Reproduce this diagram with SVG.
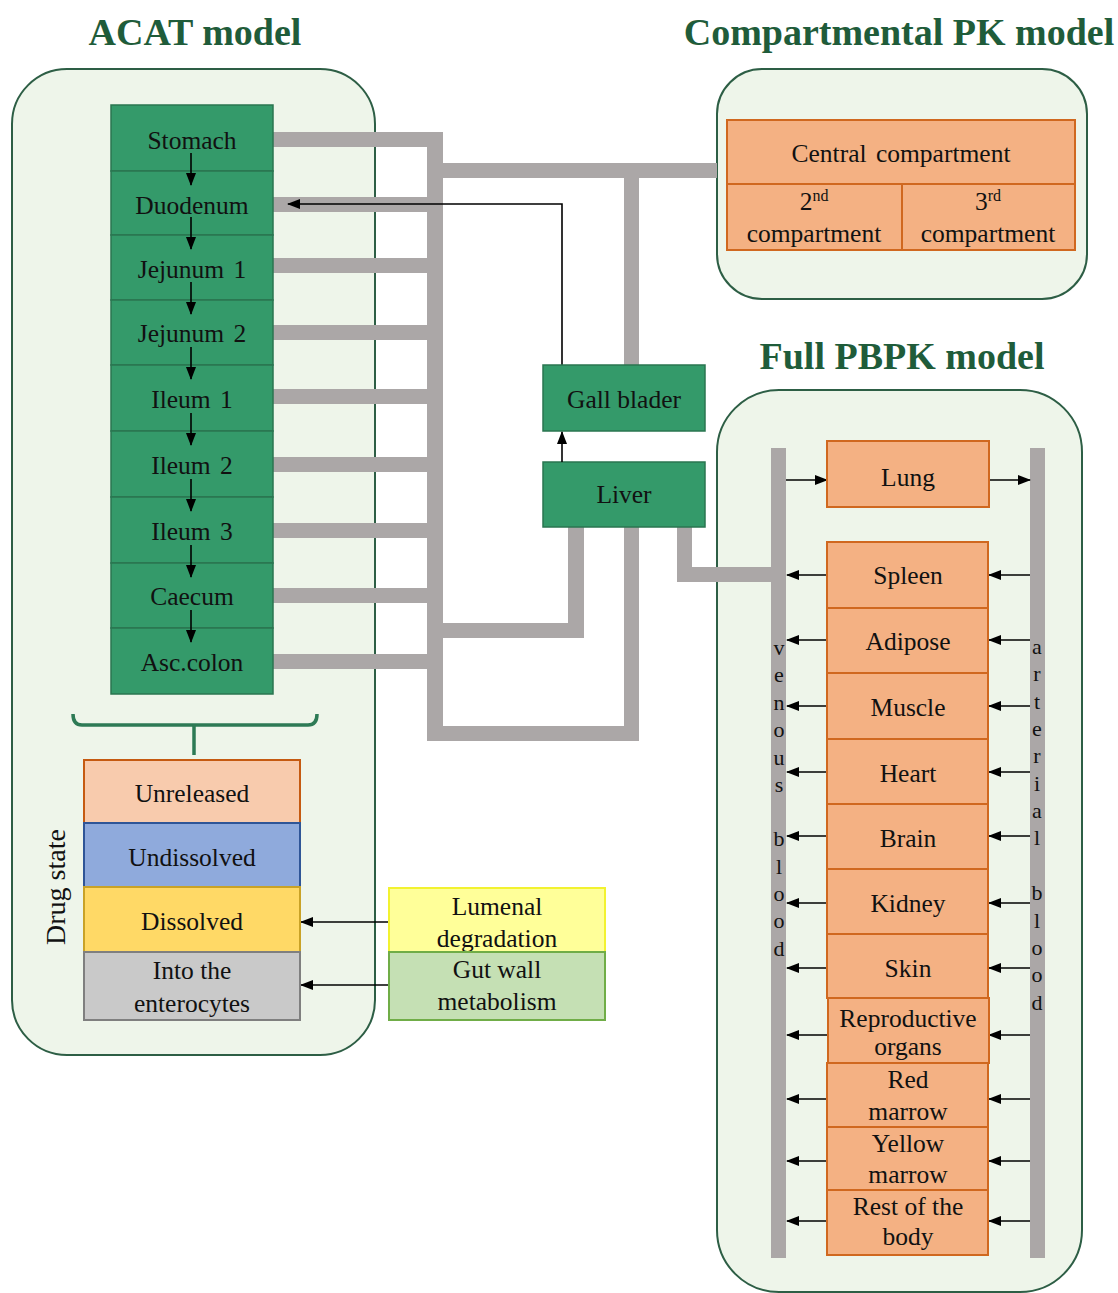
<svg xmlns="http://www.w3.org/2000/svg" width="1118" height="1293" viewBox="0 0 1118 1293">
<style>
text{font-family:"Liberation Serif","Times New Roman",serif;fill:#111;}
.t{font-size:25.5px;text-anchor:middle;}
.title{font-size:38px;font-weight:bold;fill:#1f5c3a;text-anchor:middle;}
.panel{fill:#eef5ea;stroke:#2d5e45;stroke-width:2;}
.gi{fill:#349a6a;stroke:#2a7550;stroke-width:1.5;}
.org{fill:#f4b183;stroke:#d0681f;stroke-width:2;}
.bar{fill:#aba7a7;}
.arr{stroke:#000;stroke-width:1.6;fill:none;marker-end:url(#ah);}
.lt{font-size:22px;text-anchor:middle;}
</style>
<defs>
<marker id="ah" markerUnits="userSpaceOnUse" markerWidth="13" markerHeight="10" refX="12" refY="5" orient="auto">
<path d="M0,0 L13,5 L0,10 Z" fill="#000"/>
</marker>
</defs>

<!-- titles -->
<text class="title" x="195" y="45">ACAT model</text>
<text class="title" x="899" y="45">Compartmental PK model</text>
<text class="title" x="902" y="369">Full PBPK model</text>

<!-- panels -->
<rect id="acat-panel" class="panel" x="12" y="69" width="363" height="986" rx="55"/>
<rect id="pk-panel" class="panel" x="717" y="69" width="370" height="230" rx="45"/>
<rect id="pbpk-panel" class="panel" x="717" y="390" width="365" height="902" rx="62"/>

<!-- gray connectors -->
<g id="connectors">
<g class="bar">
<rect x="427" y="132" width="16" height="609"/>
<rect x="273" y="132" width="170" height="15"/>
<rect x="273" y="197" width="154" height="15"/>
<rect x="273" y="258" width="154" height="15"/>
<rect x="273" y="325" width="154" height="15"/>
<rect x="273" y="389" width="154" height="15"/>
<rect x="273" y="457" width="154" height="15"/>
<rect x="273" y="523" width="154" height="15"/>
<rect x="273" y="588" width="154" height="15"/>
<rect x="273" y="654" width="154" height="15"/>
<rect x="443" y="163" width="274" height="15"/>
<rect x="624" y="178" width="15" height="187"/>
<rect x="568" y="527" width="16" height="111"/>
<rect x="443" y="623" width="141" height="15"/>
<rect x="624" y="527" width="15" height="214"/>
<rect x="427" y="726" width="212" height="15"/>
<rect x="677" y="527" width="15" height="55"/>
<rect x="677" y="567" width="94" height="15"/>
<rect x="771" y="448" width="15" height="810"/>
<rect x="1030" y="448" width="15" height="810"/>
</g>
<!-- bile -->
<path class="arr" d="M562,365 V204 H288"/>
<!-- drug state arrows -->
<path class="arr" d="M389,922 H301"/>
<path class="arr" d="M389,985 H301"/>
<!-- PBPK arrows -->
<path class="arr" d="M786,480 H827"/>
<path class="arr" d="M989,480 H1030"/>
<path class="arr" d="M827,575 H787"/><path class="arr" d="M1030,575 H989"/>
<path class="arr" d="M827,640 H787"/><path class="arr" d="M1030,640 H989"/>
<path class="arr" d="M827,706 H787"/><path class="arr" d="M1030,706 H989"/>
<path class="arr" d="M827,772 H787"/><path class="arr" d="M1030,772 H989"/>
<path class="arr" d="M827,836 H787"/><path class="arr" d="M1030,836 H989"/>
<path class="arr" d="M827,903 H787"/><path class="arr" d="M1030,903 H989"/>
<path class="arr" d="M827,968 H787"/><path class="arr" d="M1030,968 H989"/>
<path class="arr" d="M827,1035 H787"/><path class="arr" d="M1030,1035 H989"/>
<path class="arr" d="M827,1099 H787"/><path class="arr" d="M1030,1099 H989"/>
<path class="arr" d="M827,1161 H787"/><path class="arr" d="M1030,1161 H989"/>
<path class="arr" d="M827,1221 H787"/><path class="arr" d="M1030,1221 H989"/>
</g>

<!-- GI compartments -->
<g id="stomach"><rect class="gi" x="111" y="105" width="162" height="66"/><text class="t" x="192" y="149">Stomach</text></g>
<g id="duodenum"><rect class="gi" x="111" y="171" width="162" height="64"/><text class="t" x="192" y="214">Duodenum</text></g>
<g id="jejunum1"><rect class="gi" x="111" y="235" width="162" height="65"/><text class="t" x="192" y="278" word-spacing="3">Jejunum 1</text></g>
<g id="jejunum2"><rect class="gi" x="111" y="300" width="162" height="65"/><text class="t" x="192" y="342" word-spacing="3">Jejunum 2</text></g>
<g id="ileum1"><rect class="gi" x="111" y="365" width="162" height="66"/><text class="t" x="192" y="408" word-spacing="3">Ileum 1</text></g>
<g id="ileum2"><rect class="gi" x="111" y="431" width="162" height="66"/><text class="t" x="192" y="474" word-spacing="3">Ileum 2</text></g>
<g id="ileum3"><rect class="gi" x="111" y="497" width="162" height="66"/><text class="t" x="192" y="540" word-spacing="3">Ileum 3</text></g>
<g id="caecum"><rect class="gi" x="111" y="563" width="162" height="65"/><text class="t" x="192" y="605">Caecum</text></g>
<g id="asc-colon"><rect class="gi" x="111" y="628" width="162" height="66"/><text class="t" x="192" y="671">Asc.colon</text></g>
<!-- GI transit arrows -->
<g id="gi-arrows">
<path class="arr" d="M191,153 V185"/>
<path class="arr" d="M191,217 V249"/>
<path class="arr" d="M191,282 V314"/>
<path class="arr" d="M191,347 V379"/>
<path class="arr" d="M191,413 V445"/>
<path class="arr" d="M191,479 V511"/>
<path class="arr" d="M191,545 V577"/>
<path class="arr" d="M191,610 V642"/>
</g>

<!-- brace -->
<g id="brace" fill="none" stroke="#2d7a55" stroke-width="3.5">
<path d="M73,714 Q73,725 82,725 L308,725 Q317,725 317,714"/>
<path d="M194,725 V755"/>
</g>

<!-- drug state -->
<g id="drug-state-label"><text transform="translate(65,887) rotate(-90)" font-size="28" text-anchor="middle">Drug state</text></g>
<g id="unreleased"><rect x="84" y="760" width="216" height="63" fill="#f8cbad" stroke="#c55a11" stroke-width="2"/><text class="t" x="192" y="802">Unreleased</text></g>
<g id="undissolved"><rect x="84" y="823" width="216" height="64" fill="#8faadc" stroke="#2f5597" stroke-width="2"/><text class="t" x="192" y="866">Undissolved</text></g>
<g id="dissolved"><rect x="84" y="887" width="216" height="65" fill="#ffd966" stroke="#c9a227" stroke-width="2"/><text class="t" x="192" y="930">Dissolved</text></g>
<g id="enterocytes"><rect x="84" y="952" width="216" height="68" fill="#c9c9c9" stroke="#7f7f7f" stroke-width="2"/><text class="t" x="192" y="979">Into the</text><text class="t" x="192" y="1012">enterocytes</text></g>
<g id="lumenal"><rect x="389" y="888" width="216" height="64" fill="#ffff99" stroke="#f2f230" stroke-width="2"/><text class="t" x="497" y="915">Lumenal</text><text class="t" x="497" y="947">degradation</text></g>
<g id="gutwall"><rect x="389" y="952" width="216" height="68" fill="#c5e0b4" stroke="#70ad47" stroke-width="2"/><text class="t" x="497" y="978">Gut wall</text><text class="t" x="497" y="1010">metabolism</text></g>

<!-- gall bladder & liver -->
<g id="gall-bladder"><rect class="gi" x="543" y="365" width="162" height="66"/><text class="t" x="624" y="408">Gall blader</text></g>
<g id="liver"><rect class="gi" x="543" y="462" width="162" height="65"/><text class="t" x="624" y="503">Liver</text></g>
<path class="arr" d="M562,462 V432"/>

<!-- compartmental PK -->
<g id="central"><rect class="org" x="727" y="120" width="348" height="64"/><text class="t" x="901" y="162" word-spacing="3">Central compartment</text></g>
<g id="second"><rect class="org" x="727" y="184" width="175" height="66"/><text class="t" x="814" y="210">2<tspan font-size="16" dy="-9">nd</tspan></text><text class="t" x="814" y="242">compartment</text></g>
<g id="third"><rect class="org" x="902" y="184" width="173" height="66"/><text class="t" x="988" y="210">3<tspan font-size="16" dy="-9">rd</tspan></text><text class="t" x="988" y="242">compartment</text></g>

<!-- PBPK organs -->
<g id="lung"><rect class="org" x="827" y="441" width="162" height="66"/><text class="t" x="908" y="486">Lung</text></g>
<g id="spleen"><rect class="org" x="827" y="542" width="161" height="66"/><text class="t" x="908" y="584">Spleen</text></g>
<g id="adipose"><rect class="org" x="827" y="608" width="161" height="65"/><text class="t" x="908" y="650">Adipose</text></g>
<g id="muscle"><rect class="org" x="827" y="673" width="161" height="66"/><text class="t" x="908" y="716">Muscle</text></g>
<g id="heart"><rect class="org" x="827" y="739" width="161" height="65"/><text class="t" x="908" y="782">Heart</text></g>
<g id="brain"><rect class="org" x="827" y="804" width="161" height="65"/><text class="t" x="908" y="847">Brain</text></g>
<g id="kidney"><rect class="org" x="827" y="869" width="161" height="65"/><text class="t" x="908" y="912">Kidney</text></g>
<g id="skin"><rect class="org" x="827" y="934" width="161" height="64"/><text class="t" x="908" y="977">Skin</text></g>
<g id="reproductive"><rect class="org" x="828" y="998" width="161" height="65"/><text class="t" x="908" y="1027" font-size="23">Reproductive</text><text class="t" x="908" y="1055" font-size="23">organs</text></g>
<g id="red-marrow"><rect class="org" x="827" y="1063" width="161" height="64"/><text class="t" x="908" y="1088">Red</text><text class="t" x="908" y="1120">marrow</text></g>
<g id="yellow-marrow"><rect class="org" x="827" y="1127" width="161" height="63"/><text class="t" x="908" y="1152">Yellow</text><text class="t" x="908" y="1183">marrow</text></g>
<g id="rest"><rect class="org" x="827" y="1190" width="161" height="65"/><text class="t" x="908" y="1215">Rest of the</text><text class="t" x="908" y="1245">body</text></g>

<!-- blood labels -->
<g id="venous-label">
<text class="lt" x="779" y="655">v</text><text class="lt" x="779" y="682">e</text><text class="lt" x="779" y="710">n</text><text class="lt" x="779" y="737">o</text><text class="lt" x="779" y="765">u</text><text class="lt" x="779" y="792">s</text>
<text class="lt" x="779" y="846">b</text><text class="lt" x="779" y="874">l</text><text class="lt" x="779" y="901">o</text><text class="lt" x="779" y="928">o</text><text class="lt" x="779" y="956">d</text>
</g>
<g id="arterial-label">
<text class="lt" x="1037" y="654">a</text><text class="lt" x="1037" y="681">r</text><text class="lt" x="1037" y="709">t</text><text class="lt" x="1037" y="736">e</text><text class="lt" x="1037" y="763">r</text><text class="lt" x="1037" y="791">i</text><text class="lt" x="1037" y="818">a</text><text class="lt" x="1037" y="845">l</text>
<text class="lt" x="1037" y="900">b</text><text class="lt" x="1037" y="928">l</text><text class="lt" x="1037" y="955">o</text><text class="lt" x="1037" y="982">o</text><text class="lt" x="1037" y="1010">d</text>
</g>
</svg>
